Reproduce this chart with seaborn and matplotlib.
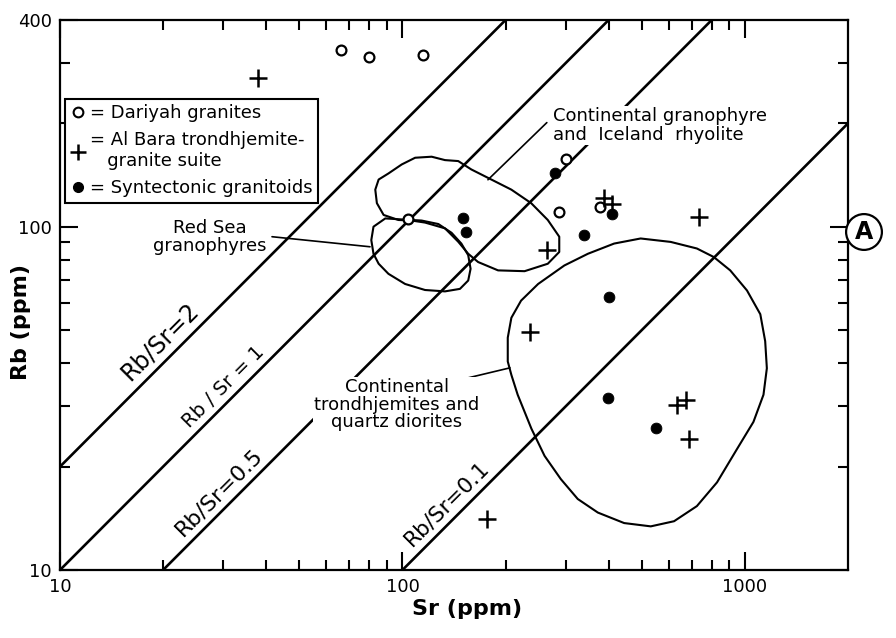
import numpy as np
import pandas as pd
import seaborn as sns
import matplotlib.pyplot as plt
from matplotlib.lines import Line2D
from matplotlib.patches import Polygon
from matplotlib.ticker import FixedLocator, NullFormatter

# Sample data (ppm)
dariyah_sr = [66, 80, 115, 300, 286, 378, 104]
dariyah_rb = [328, 313, 317, 157, 110, 114, 105]

albara_sr = [37.8, 387, 409, 264, 734, 236, 673, 633, 686, 176]
albara_rb = [272, 121.5, 116.7, 85.7, 107, 49.4, 31.3, 30.3, 24.1, 14.1]

syntec_sr = [150, 153, 279, 339, 409, 401, 398, 550]
syntec_rb = [106, 96.7, 143.7, 94.7, 109, 62.5, 31.7, 25.9]

ratios = [2, 1, 0.5, 0.1]
ratio_labels = ['Rb/Sr=2', 'Rb / Sr = 1', 'Rb/Sr=0.5', 'Rb/Sr=0.1']

# field outlines (Sr, Rb)
granophyre_sr = [97.3, 88.1, 84.2, 83.3, 85.2, 91.0, 99.5, 108.9, 121.7, 133.1, 145.5, 158.9,
                 181.8, 208, 237.6, 265.7, 287, 287, 265.7, 227.3, 190.2, 166.3, 155.6,
                 145.5, 133.1, 116.4, 106.4]
granophyre_rb = [104.6, 108.2, 117.1, 128.2, 137.2, 142.9, 151.8, 158.8, 159.9, 156.3, 155.3, 146.8,
                 137.2, 128.2, 117.1, 104.6, 93.5, 84.4, 78, 74.2, 74.6, 78.9, 83.4,
                 90.4, 98.9, 102.8, 104.2]

redsea_sr = [82.3, 89.1, 99.5, 113.8, 127.3, 139.1, 148.6, 155.6, 158.1, 155.6, 147.2, 133.1,
             116.4, 101.8, 91.0, 85.2, 82.3, 81.1]
redsea_rb = [100, 105.7, 105.0, 104.2, 101.8, 96, 89.3, 82.6, 75.4, 69.7, 65.9, 64.8,
             65.4, 68.1, 72.9, 78.0, 83.4, 91.4]

trond_sr = [496, 607, 724, 811, 906, 1014, 1109, 1146, 1159, 1133, 1059, 948, 829, 724, 621,
            531, 444, 372, 325, 290, 260, 238, 217, 208, 203, 203, 208, 222, 249, 297, 348, 415]
trond_rb = [92.4, 90.3, 86.4, 81.6, 74.6, 65.2, 55.6, 46.4, 38.7, 32.4, 27.0, 22.5, 18.0, 15.35, 13.87,
            13.4, 13.7, 14.7, 16.1, 18.4, 21.5, 25.8, 32.4, 37.0, 40.5, 47.5, 54.3, 60.9, 68.1, 77.1, 83.4, 89.3]

sns.set_style('ticks')
plt.rcParams['font.family'] = ['DejaVu Sans']
plt.rcParams['text.color'] = 'black'
plt.rcParams['axes.labelcolor'] = 'black'

fig = plt.figure(figsize=(8.96, 6.38), dpi=100)
ax = fig.add_axes([60 / 896, 68 / 638, 788 / 896, 550 / 638])
ax.set_xscale('log')
ax.set_yscale('log')

# Rb/Sr reference lines
sr_span = np.array([1.0, 10000.0])
for r in ratios:
    sns.lineplot(x=sr_span, y=r * sr_span, color='black', linewidth=1.9, ax=ax, zorder=2)

# fields
for fsr, frb in [(granophyre_sr, granophyre_rb), (redsea_sr, redsea_rb), (trond_sr, trond_rb)]:
    poly = Polygon(np.column_stack([fsr, frb]), closed=True, fill=False,
                   edgecolor='black', linewidth=1.5, joinstyle='round', zorder=2)
    ax.add_patch(poly)

# samples
sns.scatterplot(x=dariyah_sr, y=dariyah_rb, marker='o', s=50, facecolor='white',
                edgecolor='black', linewidth=1.6, ax=ax, zorder=4)
sns.scatterplot(x=albara_sr, y=albara_rb, marker='+', s=180, color='black',
                linewidth=1.8, ax=ax, zorder=4)
sns.scatterplot(x=syntec_sr, y=syntec_rb, marker='o', s=60, color='black',
                edgecolor='black', ax=ax, zorder=4)

ax.set_xlim(10, 2000)
ax.set_ylim(10, 400)

# leader lines
ax.plot([41.6, 80.4], [93.5, 87.4], color='black', linewidth=1.2, zorder=2)
ax.plot([264, 177.7], [201, 137], color='black', linewidth=1.2, zorder=2)
ax.plot([124.4, 206], [34.4, 38.8], color='black', linewidth=1.2, zorder=2)

# line labels
lbl_pos = [(19.6, 46.3), (30.1, 34.2), (29.1, 16.9), (135, 15.6)]
lbl_size = [17, 14, 16, 15.5]
for txt, (lx, ly), fs in zip(ratio_labels, lbl_pos, lbl_size):
    ax.text(lx, ly, txt, rotation=45, rotation_mode='anchor', ha='center', va='center',
            fontsize=fs)

box = dict(facecolor='white', edgecolor='none', pad=1.0)
ax.text(27.4, 93.5, 'Red Sea\ngranophyres', ha='center', va='center', fontsize=13,
        multialignment='center', linespacing=1.0, bbox=box, zorder=3)
ax.text(275, 197, 'Continental granophyre\nand  Iceland  rhyolite', ha='left', va='center',
        fontsize=13, linespacing=1.05, bbox=box, zorder=3)
ax.text(96.3, 30.3, 'Continental\ntrondhjemites and\nquartz diorites', ha='center', va='center',
        fontsize=13, multialignment='center', linespacing=0.95, bbox=box, zorder=3)

# legend
handles = [
    Line2D([], [], marker='o', ls='none', mfc='white', mec='black', mew=1.5, ms=7),
    Line2D([], [], marker='+', ls='none', color='black', mew=1.8, ms=12),
    Line2D([], [], marker='o', ls='none', color='black', ms=7),
]
labels = ['= Dariyah granites', '= Al Bara trondhjemite-\n   granite suite', '= Syntectonic granitoids']
leg = ax.legend(handles, labels, loc='upper left', bbox_to_anchor=(5 / 788, 471 / 550),
                borderaxespad=0, frameon=True, fancybox=False, edgecolor='black', framealpha=1,
                handlelength=0.8, handletextpad=0.3, labelspacing=0.5, borderpad=0.3,
                fontsize=13)
leg.get_frame().set_linewidth(1.5)

# ticks
ax.xaxis.set_major_locator(FixedLocator([10, 100, 1000]))
ax.xaxis.set_minor_locator(FixedLocator([20, 30, 40, 50, 60, 70, 80, 90,
                                         200, 300, 400, 500, 600, 700, 800, 900]))
ax.yaxis.set_major_locator(FixedLocator([10, 100, 400]))
ax.yaxis.set_minor_locator(FixedLocator([20, 30, 40, 50, 60, 70, 80, 90, 200, 300]))
ax.set_xticklabels(['10', '100', '1000'])
ax.set_yticklabels(['10', '100', '400'])
ax.xaxis.set_minor_formatter(NullFormatter())
ax.yaxis.set_minor_formatter(NullFormatter())
ax.tick_params(which='both', direction='in', top=True, right=True, width=1.5,
               color='black', labelsize=13, labelcolor='black')
ax.tick_params(which='major', length=13, pad=6)
ax.tick_params(which='minor', length=7)
for sp in ax.spines.values():
    sp.set_linewidth(1.6)
    sp.set_color('black')

ax.set_xlabel('Sr (ppm)', fontsize=16, fontweight='bold')
ax.set_ylabel('Rb (ppm)', fontsize=16, fontweight='bold')
ax.xaxis.set_label_coords(0.516, -0.052)
ax.yaxis.set_label_coords(-0.037, 0.45)

fig.text(864 / 896, 1 - 232 / 638, 'A', ha='center', va='center', fontsize=17,
         fontweight='bold', bbox=dict(boxstyle='circle,pad=0.25', facecolor='white',
                                      edgecolor='black', linewidth=1.6))

fig.savefig('out.png', dpi=100)
